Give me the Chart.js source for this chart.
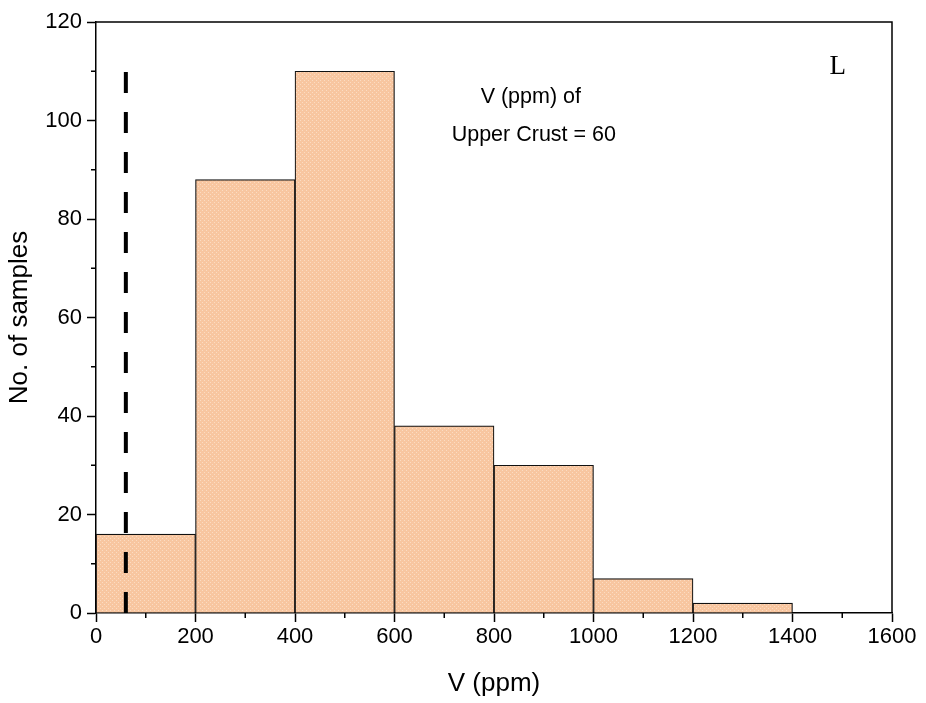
<!DOCTYPE html>
<html>
<head>
<meta charset="utf-8">
<script src="https://cdn.jsdelivr.net/npm/chart.js@4.4.0/dist/chart.umd.min.js"></script>
<style>
  html, body { margin: 0; padding: 0; background: #fff; }
  #wrap { width: 926px; height: 703px; }
</style>
</head>
<body>
<div id="wrap"><canvas id="chart" width="926" height="703"></canvas></div>
<script>
// histogram bins (ppm) and counts
const binStarts = [0, 200, 400, 600, 800, 1000, 1200];
const binWidth = 200;
const counts = [16, 88, 110, 38, 30, 7, 2];
// upper crust reference value
const crustValue = 60;
const crustLineTop = 110;
const xTicks = [0, 200, 400, 600, 800, 1000, 1200, 1400, 1600];
const yTicks = [0, 20, 40, 60, 80, 100, 120];

const FONT = 'Liberation Sans, Arial, sans-serif';

// dotted orange fill like the original
const makePattern = () => {
  const c = document.createElement('canvas');
  c.width = 4; c.height = 4;
  const g = c.getContext('2d');
  g.fillStyle = '#F8C6A0';
  g.fillRect(0, 0, 4, 4);
  g.fillStyle = '#FCDCC2';
  g.fillRect(0, 0, 1, 1);
  g.fillRect(2, 2, 1, 1);
  return g.createPattern(c, 'repeat');
};

const frameAndMinor = {
  id: 'frameAndMinor',
  afterDraw(chart) {
    const { ctx, chartArea: a, scales } = chart;
    ctx.save();
    ctx.strokeStyle = '#000';
    ctx.lineWidth = 1.5;
    // top + right border
    ctx.beginPath();
    ctx.moveTo(a.left, a.top);
    ctx.lineTo(a.right, a.top);
    ctx.lineTo(a.right, a.bottom);
    ctx.stroke();
    // minor ticks
    ctx.beginPath();
    for (let v = 100; v < 1600; v += 200) {
      const px = scales.x.getPixelForValue(v);
      ctx.moveTo(px, a.bottom);
      ctx.lineTo(px, a.bottom + 5);
    }
    for (let v = 10; v < 120; v += 20) {
      const py = scales.y.getPixelForValue(v);
      ctx.moveTo(a.left, py);
      ctx.lineTo(a.left - 5, py);
    }
    ctx.stroke();
    // annotation text
    ctx.fillStyle = '#000';
    ctx.textAlign = 'center';
    ctx.textBaseline = 'middle';
    ctx.font = '21.5px ' + FONT;
    const tx = scales.x.getPixelForValue(874);
    ctx.fillText('V (ppm) of', tx, scales.y.getPixelForValue(104.7));
    ctx.fillText('Upper Crust = 60', tx + 3, scales.y.getPixelForValue(97.0));
    ctx.font = '27px Liberation Serif, Times New Roman, serif';
    ctx.fillText('L', scales.x.getPixelForValue(1491), scales.y.getPixelForValue(110.8));
    ctx.restore();
  }
};

const ctx = document.getElementById('chart').getContext('2d');
new Chart(ctx, {
  data: {
    datasets: [
      {
        type: 'bar',
        data: binStarts.map((s, i) => ({ x: s + binWidth / 2, y: counts[i] })),
        backgroundColor: makePattern(),
        borderColor: '#111',
        borderWidth: 1.2,
        barPercentage: 1,
        categoryPercentage: 1,
        order: 2
      },
      {
        type: 'line',
        data: [{ x: crustValue, y: 0 }, { x: crustValue, y: crustLineTop }],
        borderColor: '#000',
        borderWidth: 4,
        borderDash: [21, 19],
        pointRadius: 0,
        order: 1
      }
    ]
  },
  options: {
    responsive: false,
    animation: false,
    layout: { padding: { top: 22, right: 34, left: 0, bottom: 0 } },
    plugins: { legend: { display: false }, tooltip: { enabled: false } },
    scales: {
      x: {
        type: 'linear',
        min: 0, max: 1600,
        offset: false,
        afterBuildTicks: (s) => { s.ticks = xTicks.map(v => ({ value: v })); },
        afterFit: (s) => { s.height = 90; },
        ticks: { color: '#000', font: { size: 22, family: FONT }, padding: 2, maxRotation: 0, callback: (v) => String(v) },
        grid: { offset: false, drawOnChartArea: false, color: '#000', tickLength: 9, tickWidth: 1.5 },
        border: { color: '#000', width: 1.5 },
        title: { display: true, text: 'V (ppm)', color: '#000', font: { size: 26, family: FONT }, padding: { top: 2 } }
      },
      y: {
        type: 'linear',
        min: 0, max: 120,
        afterBuildTicks: (s) => { s.ticks = yTicks.map(v => ({ value: v })); },
        afterFit: (s) => { s.width = 96; },
        ticks: { color: '#000', font: { size: 22, family: FONT }, padding: 5 },
        grid: { drawOnChartArea: false, color: '#000', tickLength: 9, tickWidth: 1.5 },
        border: { color: '#000', width: 1.5 },
        title: { display: true, text: 'No. of samples', color: '#000', font: { size: 26, family: FONT }, padding: { top: 4, bottom: 2 } }
      }
    }
  },
  plugins: [frameAndMinor]
});
</script>
</body>
</html>
